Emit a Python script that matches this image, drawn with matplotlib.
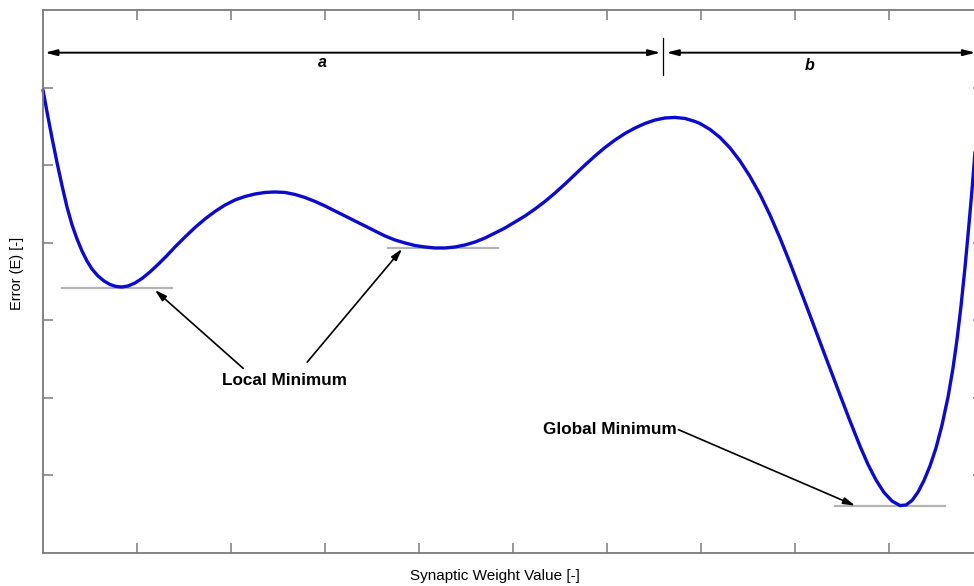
import matplotlib.pyplot as plt

plt.rcParams['font.family'] = ['Liberation Sans', 'DejaVu Sans']

# error surface over the synaptic weight
weight = [0.000, 0.043, 0.096, 0.149, 0.202, 0.255, 0.309, 0.362, 0.415, 0.468,
          0.521, 0.585, 0.649, 0.713, 0.777, 0.840, 0.904, 0.979, 1.053, 1.138,
          1.223, 1.309, 1.404, 1.511, 1.617, 1.723, 1.830, 1.936, 2.043, 2.149,
          2.255, 2.362, 2.468, 2.574, 2.681, 2.787, 2.894, 3.000, 3.106, 3.213,
          3.319, 3.426, 3.532, 3.638, 3.745, 3.851, 3.957, 4.064, 4.170, 4.277,
          4.383, 4.489, 4.596, 4.702, 4.809, 4.915, 5.021, 5.128, 5.234, 5.340,
          5.447, 5.553, 5.660, 5.766, 5.872, 5.979, 6.085, 6.191, 6.298, 6.404,
          6.511, 6.617, 6.723, 6.830, 6.936, 6.989, 7.096, 7.202, 7.309, 7.415,
          7.521, 7.628, 7.734, 7.840, 7.947, 8.053, 8.160, 8.266, 8.372, 8.479,
          8.585, 8.691, 8.777, 8.862, 8.947, 9.032, 9.117, 9.181, 9.245, 9.309,
          9.372, 9.436, 9.500, 9.564, 9.628, 9.681, 9.723, 9.766, 9.809, 9.851,
          9.883, 9.915]
error = [5.969, 5.685, 5.350, 5.034, 4.738, 4.461, 4.229, 4.048, 3.893, 3.764,
         3.661, 3.571, 3.507, 3.461, 3.436, 3.429, 3.442, 3.481, 3.539, 3.623,
         3.719, 3.822, 3.945, 4.074, 4.196, 4.306, 4.403, 4.486, 4.551, 4.596,
         4.628, 4.648, 4.654, 4.648, 4.622, 4.583, 4.532, 4.474, 4.409, 4.345,
         4.280, 4.216, 4.151, 4.087, 4.035, 3.997, 3.964, 3.945, 3.932, 3.932,
         3.945, 3.971, 4.009, 4.061, 4.125, 4.190, 4.267, 4.345, 4.435, 4.532,
         4.641, 4.757, 4.880, 5.002, 5.118, 5.228, 5.324, 5.408, 5.479, 5.537,
         5.582, 5.608, 5.615, 5.602, 5.563, 5.537, 5.460, 5.357, 5.221, 5.054,
         4.854, 4.622, 4.357, 4.061, 3.739, 3.403, 3.062, 2.720, 2.379, 2.037,
         1.702, 1.379, 1.141, 0.941, 0.780, 0.670, 0.612, 0.619, 0.677, 0.786,
         0.935, 1.122, 1.354, 1.650, 2.011, 2.385, 2.746, 3.184, 3.687, 4.241,
         4.680, 5.170]

# minima: (level, x start, x end)
minima = [(3.42, 0.20, 1.37), (3.93, 3.67, 4.84), (0.60, 8.43, 9.60)]

fig = plt.figure(figsize=(9.74, 5.86), dpi=100)
ax = fig.add_axes([43 / 974, 33 / 586, 940 / 974, 543 / 586])
ax.set_xlim(0, 10)
ax.set_ylim(0, 7)

for lvl, x0, x1 in minima:
    ax.plot([x0, x1], [lvl, lvl], color='#b4b4b4', lw=1.6, zorder=1)

ax.plot(weight, error, color='#0b0bd0', lw=2.4, zorder=2, clip_on=False,
        solid_joinstyle='round', solid_capstyle='round')

grey = '#7a7a7a'
for s in ax.spines.values():
    s.set_color(grey)
    s.set_linewidth(1.3)
ax.set_xticks(range(1, 10))
ax.set_yticks(range(1, 7))
ax.tick_params(direction='in', length=7, width=1.1, color=grey,
               top=True, right=True, labelbottom=False, labelleft=False)

# regions a and b along the top
head = dict(arrowstyle='<|-|>,head_length=0.7,head_width=0.18', lw=1.4,
            color='black', shrinkA=0, shrinkB=0)
ax.annotate('', xy=(0.02, 6.45), xytext=(6.57, 6.45), arrowprops=head)
ax.annotate('', xy=(6.63, 6.45), xytext=(9.92, 6.45), arrowprops=head)
ax.plot([6.60, 6.60], [6.16, 6.64], color='black', lw=0.9)
ax.text(2.97, 6.32, 'a', fontsize=11.5, fontweight='bold', fontstyle='italic',
        ha='center', va='center')
ax.text(8.16, 6.29, 'b', fontsize=11.5, fontweight='bold', fontstyle='italic',
        ha='center', va='center')

# annotations
arr = dict(arrowstyle='-|>,head_length=0.7,head_width=0.2', lw=1.2,
           color='black', shrinkA=0, shrinkB=0)
ax.text(2.57, 2.22, 'Local Minimum', fontsize=12.3, fontweight='bold',
        ha='center', va='center')
ax.annotate('', xy=(1.19, 3.39), xytext=(2.13, 2.38), arrowprops=arr)
ax.annotate('', xy=(3.82, 3.92), xytext=(2.81, 2.46), arrowprops=arr)
ax.text(6.74, 1.59, 'Global Minimum', fontsize=12.3, fontweight='bold',
        ha='right', va='center')
ax.annotate('', xy=(8.64, 0.61), xytext=(6.76, 1.59), arrowprops=arr)

fig.text(495 / 974, 1 - 576 / 586, 'Synaptic Weight Value [-]', fontsize=11,
         ha='center', va='center')
fig.text(17 / 974, 1 - 273 / 586, 'Error (E) [-]', fontsize=10.5, rotation=90,
         ha='center', va='center')

fig.savefig('out.png', dpi=100)
